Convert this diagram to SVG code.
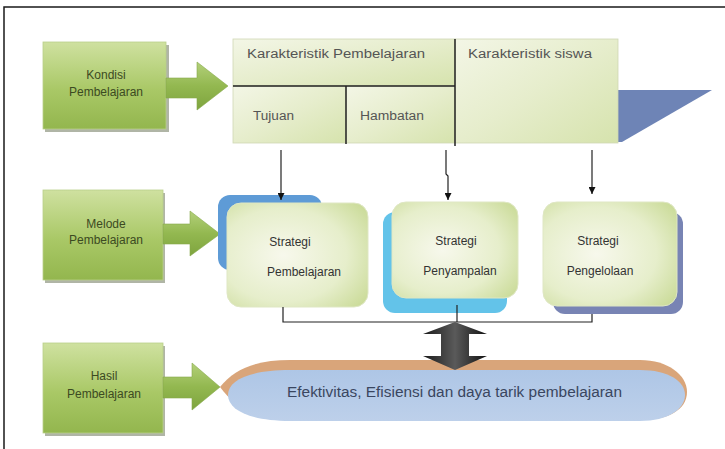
<svg xmlns="http://www.w3.org/2000/svg" width="725" height="449" viewBox="0 0 725 449">
<defs>
<linearGradient id="gGreen" x1="0" y1="0" x2="0" y2="1">
<stop offset="0" stop-color="#cfe1a0"/>
<stop offset="0.55" stop-color="#a9c866"/>
<stop offset="1" stop-color="#93b64e"/>
</linearGradient>
<linearGradient id="gArrow" x1="0" y1="0" x2="0" y2="1">
<stop offset="0" stop-color="#b3d07a"/>
<stop offset="0.5" stop-color="#93b850"/>
<stop offset="1" stop-color="#7ea43e"/>
</linearGradient>
<linearGradient id="gTable" x1="0" y1="0" x2="1" y2="1">
<stop offset="0" stop-color="#f3f6e6"/>
<stop offset="0.5" stop-color="#e6edcc"/>
<stop offset="1" stop-color="#d6e3ad"/>
</linearGradient>
<radialGradient id="gStrat" cx="0.4" cy="0.5" r="0.75">
<stop offset="0" stop-color="#f7f8ec"/>
<stop offset="0.6" stop-color="#e6eecb"/>
<stop offset="1" stop-color="#c9da96"/>
</radialGradient>
<linearGradient id="gBlack" x1="0" y1="0" x2="1" y2="0">
<stop offset="0" stop-color="#1a1a1a"/>
<stop offset="0.5" stop-color="#5a5a5a"/>
<stop offset="1" stop-color="#111"/>
</linearGradient>
<linearGradient id="gEll" x1="0" y1="0" x2="0" y2="1">
<stop offset="0" stop-color="#aec6e6"/>
<stop offset="1" stop-color="#bdd0ea"/>
</linearGradient>
<marker id="ah" viewBox="0 0 10 10" refX="10" refY="5" markerWidth="7" markerHeight="7" orient="auto" markerUnits="userSpaceOnUse">
<path d="M0,0 L10,5 L0,10 z" fill="#111"/>
</marker>
<style>
.frame{stroke:#1a1a1a;stroke-width:1.5;fill:none}
.gbox{fill:url(#gGreen);stroke:#b9cf8a;stroke-width:0.8}
.gshadow{fill:#8f9580;opacity:0.7}
.garrow{fill:url(#gArrow);stroke:#86a94c;stroke-width:0.6}
.gtext{font-family:"Liberation Sans",Arial,sans-serif;font-size:12px;fill:#3c4a22;text-anchor:middle}
.ttext{font-family:"Liberation Sans",Arial,sans-serif;font-size:12.5px;fill:#555}
.stext{font-family:"Liberation Sans",Arial,sans-serif;font-size:12px;fill:#333;text-anchor:middle}
.etext{font-family:"Liberation Sans",Arial,sans-serif;font-size:14px;fill:#3a4660}
.cell{fill:url(#gTable);stroke:#cfd8b5;stroke-width:0.8}
.div{stroke:#222;stroke-width:1.5}
.strat{fill:url(#gStrat);stroke:#dfe7c4;stroke-width:1}
.conn{stroke:#222;stroke-width:1.2;fill:none}
</style>
</defs>

<!-- frame -->
<path class="frame" d="M4,449 L4,7 L725,7"/>

<!-- Kondisi Pembelajaran -->
<g id="kondisi">
<rect class="gshadow" x="45" y="45" width="124" height="87"/>
<rect class="gbox" x="43" y="42" width="123" height="87"/>
<polygon class="garrow" points="166,78 197,78 197,62 228,86 197,110 197,98 166,98"/>
<text class="gtext" x="106" y="79">Kondisi</text>
<text class="gtext" x="106" y="96">Pembelajaran</text>
</g>

<!-- Metode Pembelajaran -->
<g id="metode">
<rect class="gshadow" x="45" y="193" width="120" height="90"/>
<rect class="gbox" x="43" y="190" width="120" height="90"/>
<polygon class="garrow" points="163,224 190,224 190,211 220,234 190,256 190,244 163,244"/>
<text class="gtext" x="106" y="228">Melode</text>
<text class="gtext" x="106" y="244">Pembelajaran</text>
</g>

<!-- Hasil Pembelajaran -->
<g id="hasil">
<rect class="gshadow" x="45" y="346" width="120" height="90"/>
<rect class="gbox" x="43" y="343" width="120" height="90"/>
<polygon class="garrow" points="163,377 192,377 192,363 220,387 192,410 192,398 163,398"/>
<text class="gtext" x="104" y="380">Hasil</text>
<text class="gtext" x="104" y="398">Pembelajaran</text>
</g>

<!-- top table -->
<g id="karakteristik">
<polygon points="612,90 712,90 622,142 612,142" fill="#6e84b6"/>
<rect class="cell" x="233" y="39" width="222" height="47"/>
<rect class="cell" x="233" y="86" width="113" height="57"/>
<rect class="cell" x="346" y="86" width="109" height="57"/>
<rect class="cell" x="455" y="39" width="163" height="104"/>
<line class="div" x1="233" y1="86" x2="455" y2="86" stroke-width="1.2"/>
<line class="div" x1="346" y1="86" x2="346" y2="144"/>
<line class="div" x1="455" y1="39" x2="455" y2="146"/>
<text class="ttext" x="247" y="58" textLength="178" lengthAdjust="spacingAndGlyphs">Karakteristik Pembelajaran</text>
<text class="ttext" x="468" y="58" textLength="124" lengthAdjust="spacingAndGlyphs">Karakteristik siswa</text>
<text class="ttext" x="253" y="120" textLength="41" lengthAdjust="spacingAndGlyphs">Tujuan</text>
<text class="ttext" x="360" y="120" textLength="64" lengthAdjust="spacingAndGlyphs">Hambatan</text>
</g>

<!-- Strategi Pembelajaran -->
<g id="strategi-pembelajaran">
<rect x="218" y="195" width="104" height="75" rx="12" fill="#5e9bd6"/>
<rect class="strat" x="227" y="203" width="141" height="104" rx="14"/>
<text class="stext" x="290" y="246">Strategi</text>
<text class="stext" x="304" y="276">Pembelajaran</text>
</g>

<!-- Strategi Penyampalan -->
<g id="strategi-penyampaian">
<rect x="383" y="212" width="124" height="101" rx="12" fill="#63c3e9"/>
<rect class="strat" x="392" y="202" width="126" height="96" rx="14"/>
<text class="stext" x="456" y="245">Strategi</text>
<text class="stext" x="460" y="275">Penyampalan</text>
</g>

<!-- Strategi Pengelolaan -->
<g id="strategi-pengelolaan">
<rect x="553" y="212" width="130" height="102" rx="12" fill="#7884b4"/>
<rect class="strat" x="543" y="202" width="134" height="104" rx="14"/>
<text class="stext" x="598" y="245">Strategi</text>
<text class="stext" x="600" y="275">Pengelolaan</text>
</g>

<!-- Outcome ellipse -->
<g id="efektivitas">
<path d="M220,387 C235,368 258,360 290,360 L640,360 C668,360 687,375 687,392 C687,410 668,420 640,420 L290,420 C258,420 235,408 220,387 Z" fill="#d9a57a"/>
<path d="M228,395 C228,380 250,370 290,370 L640,370 C668,370 685,381 685,395 C685,409 668,421 640,421 L290,421 C250,421 228,410 228,395 Z" fill="url(#gEll)"/>
<text class="etext" x="287" y="397" textLength="335" lengthAdjust="spacingAndGlyphs">Efektivitas, Efisiensi dan daya tarik pembelajaran</text>
</g>

<!-- connectors -->
<g id="connectors">
<line class="conn" x1="281" y1="150" x2="281" y2="200" marker-end="url(#ah)"/>
<path class="conn" d="M446,150 L446,174 L448,176 L448,200" marker-end="url(#ah)"/>
<line class="conn" x1="592" y1="150" x2="592" y2="194" marker-end="url(#ah)"/>
<path class="conn" d="M283,307 L283,322 L592,322 L592,314"/>
<line class="conn" x1="457" y1="305" x2="457" y2="322"/>
<polygon points="455,322 487,334 469,334 469,356 487,356 455,370 423,356 441,356 441,334 423,334" fill="url(#gBlack)"/>
</g>
</svg>
